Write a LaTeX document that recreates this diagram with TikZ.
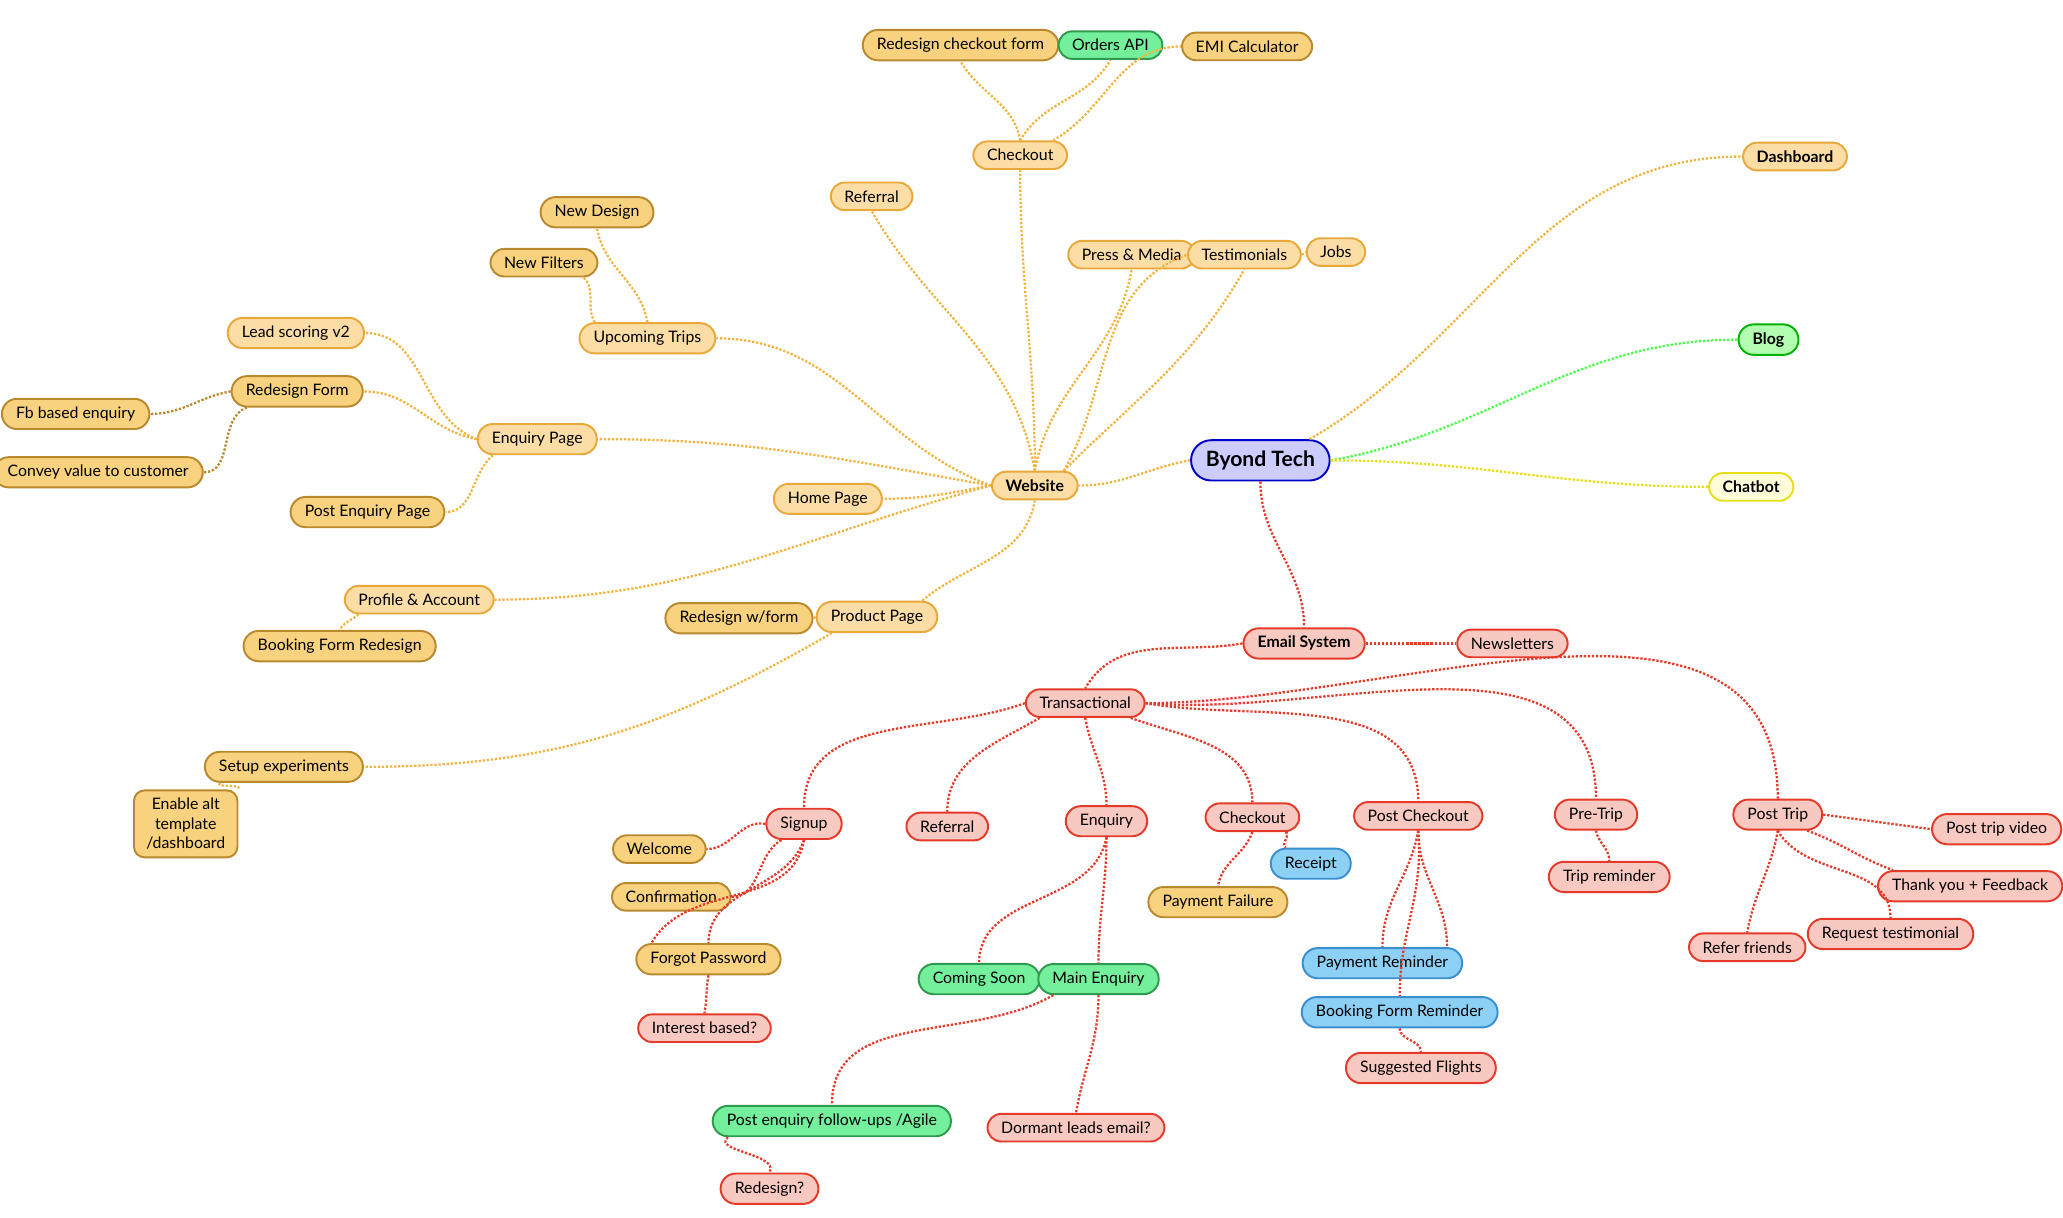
\documentclass[tikz,border=0pt]{standalone}
\usepackage{fontspec}
\setmainfont{Lato}
\usetikzlibrary{positioning,shapes.misc}
\definecolor{obord}{HTML}{E8A83A}
\definecolor{ofill}{HTML}{FCDDA6}
\definecolor{dbord}{HTML}{B8892E}
\definecolor{dfill}{HTML}{F8D27E}
\definecolor{rbord}{HTML}{E5392A}
\definecolor{rfill}{HTML}{F8C9C0}
\definecolor{gbord}{HTML}{2F9A4F}
\definecolor{gfill}{HTML}{74F09C}
\definecolor{bbord}{HTML}{3A8FD0}
\definecolor{bfill}{HTML}{8DD0F6}
\definecolor{olink}{HTML}{F2B440}
\definecolor{rlink}{HTML}{E5392A}
\tikzset{
  mm/.style={rounded rectangle, draw, line width=1.1pt, font=\small, inner xsep=7pt, inner ysep=4.5pt},
  orange/.style={mm, fill=ofill, draw=obord},
  dark/.style={mm, fill=dfill, draw=dbord},
  red/.style={mm, fill=rfill, draw=rbord},
  green/.style={mm, fill=gfill, draw=gbord},
  blue/.style={mm, fill=bfill, draw=bbord},
  olk/.style={densely dotted, line width=1.3pt, olink},
  rlk/.style={densely dotted, line width=1.3pt, rlink},
}
\begin{document}
\begin{tikzpicture}[x=0.0265cm,y=-0.0265cm]
\useasboundingbox (0,0) rectangle (1555,917.4);
% root and first level
\node[mm, fill=blue!20, draw=blue!80!black, font=\large\bfseries, inner ysep=6pt] (root) at (950,347) {Byond Tech};
\node[orange, font=\small\bfseries] (dash) at (1353,118) {Dashboard};
\node[mm, fill=green!30, draw=green!70!black, font=\small\bfseries] (blog) at (1333,256) {Blog};
\node[mm, fill=yellow!15, draw=yellow!90!black, font=\small\bfseries] (chat) at (1320,367) {Chatbot};
\node[orange, font=\small\bfseries] (web) at (780,366) {Website};
\node[red, font=\small\bfseries] (email) at (983,485) {Email System};
% website branch
\node[orange] (ref) at (657,148) {Referral};
\node[orange] (chk) at (769,117) {Checkout};
\node[dark] (rcf) at (724,34) {Redesign checkout form};
\node[green] (oapi) at (837,34) {Orders API};
\node[dark] (emi) at (940,35) {EMI Calculator};
\node[orange] (press) at (853,192) {Press \& Media};
\node[orange] (test) at (938,192) {Testimonials};
\node[orange] (jobs) at (1007,190) {Jobs};
\node[orange] (up) at (488,255) {Upcoming Trips};
\node[dark] (ndes) at (450,160) {New Design};
\node[dark] (nfil) at (410,198) {New Filters};
\node[orange] (enq) at (405,331) {Enquiry Page};
\node[orange] (lead) at (223,251) {Lead scoring v2};
\node[dark] (rform) at (224,295) {Redesign Form};
\node[dark] (fb) at (57,312) {Fb based enquiry};
\node[dark] (conv) at (74,356) {Convey value to customer};
\node[dark] (pep) at (277,386) {Post Enquiry Page};
\node[orange] (home) at (624,376) {Home Page};
\node[orange] (prof) at (316,452) {Profile \& Account};
\node[dark] (bfr) at (256,487) {Booking Form Redesign};
\node[orange] (prod) at (661,465) {Product Page};
\node[dark] (rwf) at (557,466) {Redesign w/form};
\node[dark] (setup) at (214,578) {Setup experiments};
\node[dark, rounded corners=6pt, rectangle, align=center] (alt) at (140,621) {Enable alt\\template\\/dashboard};
% email branch
\node[red] (news) at (1140,485) {Newsletters};
\node[red] (trans) at (818,530) {Transactional};
\node[red] (sign) at (606,621) {Signup};
\node[dark] (wel) at (497,640) {Welcome};
\node[dark] (conf) at (506,676) {Confirmation};
\node[dark] (forg) at (534,723) {Forgot Password};
\node[red] (intb) at (531,775) {Interest based?};
\node[red] (ref2) at (714,623) {Referral};
\node[red] (enq2) at (834,619) {Enquiry};
\node[green] (soon) at (738,738) {Coming Soon};
\node[green] (main) at (828,738) {Main Enquiry};
\node[green] (pef) at (627,845) {Post enquiry follow-ups /Agile};
\node[red] (redq) at (580,896) {Redesign?};
\node[red] (dorm) at (811,850) {Dormant leads email?};
\node[red] (chk2) at (944,616) {Checkout};
\node[blue] (rec) at (988,651) {Receipt};
\node[dark] (payf) at (918,680) {Payment Failure};
\node[red] (pchk) at (1069,615) {Post Checkout};
\node[blue] (payr) at (1042,726) {Payment Reminder};
\node[blue] (bfrem) at (1055,763) {Booking Form Reminder};
\node[red] (sugg) at (1071,805) {Suggested Flights};
\node[red] (pre) at (1203,614) {Pre-Trip};
\node[red] (trem) at (1213,661) {Trip reminder};
\node[red] (post) at (1340,614) {Post Trip};
\node[red] (ptv) at (1505,625) {Post trip video};
\node[red] (thx) at (1485,668) {Thank you + Feedback};
\node[red] (reqt) at (1425,704) {Request testimonial};
\node[red] (refer) at (1317,714) {Refer friends};
% connectors
\begin{scope}[on background layer/.style={}]
\draw[olk] (root.north east) to[out=30,in=180] (dash.west);
\draw[densely dotted, line width=1.3pt, green!70] (root.east) to[out=10,in=180] (blog.west);
\draw[densely dotted, line width=1.3pt, yellow!90!black] (root.east) to[out=0,in=180] (chat.west);
\draw[olk] (root.west) to[out=190,in=0] (web.east);
\draw[rlk] (root.south) to[out=-90,in=90] (email.north);
\draw[olk] (web.north) to[out=100,in=-60] (ref.south);
\draw[olk] (web.north) to[out=90,in=-90] (chk.south);
\draw[olk] (chk.north) to[out=100,in=-60] (rcf.south);
\draw[olk] (chk.north) to[out=60,in=-120] (oapi.south);
\draw[olk] (chk.north east) to[out=30,in=180] (emi.west);
\draw[olk] (web.north) to[out=80,in=-100] (press.south);
\draw[olk] (web.north east) to[out=60,in=-160] (test.west);
\draw[olk] (web.north east) to[out=45,in=-120] (test.south);
\draw[olk] (test.east) to[out=0,in=180] (jobs.west);
\draw[olk] (web.west) to[out=160,in=0] (up.east);
\draw[olk] (up.north) to[out=100,in=-80] (ndes.south);
\draw[olk] (up.north west) to[out=120,in=-45] (nfil.south east);
\draw[olk] (web.west) to[out=170,in=0] (enq.east);
\draw[olk] (enq.west) to[out=160,in=0] (lead.east);
\draw[olk] (enq.west) to[out=170,in=0] (rform.east);
\draw[densely dotted, line width=1.3pt, dbord] (rform.west) to[out=190,in=0] (fb.east);
\draw[densely dotted, line width=1.3pt, dbord] (rform.south west) to[out=200,in=0] (conv.east);
\draw[olk] (enq.south west) to[out=-140,in=0] (pep.east);
\draw[olk] (web.west) to[out=190,in=0] (home.east);
\draw[olk] (web.west) to[out=195,in=0] (prof.east);
\draw[olk] (prof.south west) to[out=-140,in=60] (bfr.north);
\draw[olk] (web.south) to[out=-100,in=40] (prod.north east);
\draw[olk] (prod.west) -- (rwf.east);
\draw[olk] (prod.south west) to[out=-150,in=0] (setup.east);
\draw[olk] (setup.south west) to[out=-130,in=60] (alt.north east);
\draw[rlk] (email.east) -- (news.west);
\draw[rlk] (email.west) to[out=190,in=60] (trans.north);
\draw[rlk] (trans.west) to[out=200,in=90] (sign.north);
\draw[rlk] (sign.west) to[out=170,in=0] (wel.east);
\draw[rlk] (sign.south west) to[out=-150,in=0] (conf.east);
\draw[rlk] (sign.south) to[out=-110,in=90] (forg.north);
\draw[rlk] (sign.south) to[out=-100,in=60] (forg.north west);
\draw[rlk] (forg.south) to[out=-100,in=80] (intb.north);
\draw[rlk] (trans.south west) to[out=-150,in=90] (ref2.north);
\draw[rlk] (trans.south) to[out=-80,in=90] (enq2.north);
\draw[rlk] (enq2.south) to[out=-100,in=90] (soon.north);
\draw[rlk] (enq2.south) to[out=-90,in=90] (main.north);
\draw[rlk] (main.south west) to[out=-150,in=90] (pef.north);
\draw[rlk] (pef.south west) to[out=-140,in=60] (redq.north);
\draw[rlk] (main.south) to[out=-90,in=80] (dorm.north);
\draw[rlk] (trans.south east) to[out=-20,in=90] (chk2.north);
\draw[rlk] (chk2.south) to[out=-110,in=80] (payf.north);
\draw[rlk] (chk2.south east) to[out=-20,in=160] (rec.north west);
\draw[rlk] (trans.east) to[out=-10,in=90] (pchk.north);
\draw[rlk] (pchk.south) to[out=-100,in=90] (payr.north);
\draw[rlk] (pchk.south) to[out=-90,in=90] (payr.north east);
\draw[rlk] (pchk.south) to[out=-85,in=90] (bfrem.north);
\draw[rlk] (bfrem.south) to[out=-90,in=90] (sugg.north);
\draw[rlk] (trans.east) to[out=-5,in=90] (pre.north);
\draw[rlk] (pre.south) to[out=-80,in=90] (trem.north);
\draw[rlk] (trans.east) to[out=0,in=90] (post.north);
\draw[rlk] (post.east) -- (ptv.west);
\draw[rlk] (post.south east) to[out=-20,in=160] (thx.north west);
\draw[rlk] (post.south) to[out=-60,in=90] (reqt.north);
\draw[rlk] (post.south) to[out=-100,in=80] (refer.north);
\end{scope}
% redraw nodes over connectors
\foreach \n in {root,dash,blog,chat,web,email,ref,chk,rcf,oapi,emi,press,test,jobs,up,ndes,nfil,enq,lead,rform,fb,conv,pep,home,prof,bfr,prod,rwf,setup,alt,news,trans,sign,wel,conf,forg,intb,ref2,enq2,soon,main,pef,redq,dorm,chk2,rec,payf,pchk,payr,bfrem,sugg,pre,trem,post,ptv,thx,reqt,refer}{}
\end{tikzpicture}
\end{document}
